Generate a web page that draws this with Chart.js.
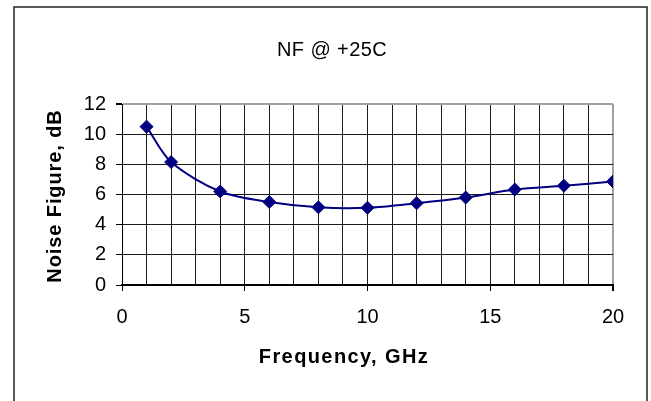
<!DOCTYPE html>
<html>
<head>
<meta charset="utf-8">
<script src="https://cdn.jsdelivr.net/npm/chart.js@4/dist/chart.umd.min.js"></script>
<style>
  body{margin:0;background:#fff;}
  #nfChart{display:block;}
</style>
</head>
<body>
<canvas id="nfChart" width="651" height="401"></canvas>
<script>
// NF @ +25C
const freqGHz=[1,2,4,6,8,10,12,14,16,18,20];
const noiseFigureDb=[10.5,8.15,6.2,5.5,5.15,5.12,5.42,5.8,6.33,6.58,6.86];
const xTickLabels=[0,5,10,15,20];
const yTickLabels=[0,2,4,6,8,10,12];
const chartTitle='NF @ +25C';
const xTitle='Frequency, GHz';
const yTitle='Noise Figure, dB';

const FONT='"Liberation Sans", Arial, sans-serif';
const navy='#000080';

// frame + titles (Excel spaces the bold axis titles out a bit, so draw them by hand)
const decorPlugin={
  id:'decor',
  afterDraw:(chart)=>{
    const ctx=chart.ctx;
    ctx.save();
    ctx.strokeStyle='#222';
    ctx.lineWidth=1.5;
    ctx.strokeRect(14,7,633,430);

    ctx.fillStyle='#000';
    ctx.textAlign='center';
    ctx.textBaseline='middle';

    ctx.font='20px '+FONT;
    ctx.letterSpacing='0.4px';
    ctx.fillText(chartTitle,332,50);

    ctx.font='bold 20px '+FONT;
    ctx.letterSpacing='1.4px';
    ctx.fillText(xTitle,344,357);

    ctx.letterSpacing='0.9px';
    ctx.translate(55,196);
    ctx.rotate(-Math.PI/2);
    ctx.fillText(yTitle,0,0);
    ctx.restore();
  }
};

const loadNfChart=()=>{
  const ctx=document.getElementById('nfChart');
  const points=freqGHz.map((f,i)=>({x:f,y:noiseFigureDb[i]}));

  new Chart(ctx,{
    type:'scatter',
    data:{
      datasets:[{
        data:points,
        showLine:true,
        borderColor:navy,
        borderWidth:2,
        tension:0.3,
        pointStyle:'rectRot',
        pointRadius:6.5,
        pointBackgroundColor:navy,
        pointBorderColor:navy,
        pointBorderWidth:1
      }]
    },
    options:{
      responsive:false,
      animation:false,
      layout:{padding:{left:0,right:38,top:104,bottom:0}},
      plugins:{
        legend:{display:false},
        tooltip:{enabled:false}
      },
      scales:{
        x:{
          type:'linear',
          min:0,max:20,
          afterFit:(s)=>{s.height=116;},
          ticks:{
            stepSize:1,
            autoSkip:false,
            maxRotation:0,
            padding:14,
            color:'#000',
            font:{family:FONT,size:20},
            callback:(v)=>xTickLabels.includes(v)?String(v):''
          },
          grid:{
            color:(c)=>c.tick && c.tick.value===20?'#a0a0a0':'#1a1a1a',
            lineWidth:(c)=>c.tick && c.tick.value===20?2:1,
            tickLength:6,
            tickColor:(c)=>c.tick && xTickLabels.includes(c.tick.value)?'#000':'rgba(0,0,0,0)'
          },
          border:{color:'#000',width:2}
        },
        y:{
          min:0,max:12,
          afterFit:(s)=>{s.width=122;},
          ticks:{
            stepSize:2,
            padding:10,
            color:'#000',
            font:{family:FONT,size:20},
            callback:(v)=>yTickLabels.includes(v)?String(v):''
          },
          grid:{
            color:(c)=>c.tick && c.tick.value===12?'#a0a0a0':'#1a1a1a',
            lineWidth:(c)=>c.tick && c.tick.value===12?2:1,
            tickLength:6,
            tickColor:'#000'
          },
          border:{color:'#000',width:1}
        }
      }
    },
    plugins:[decorPlugin]
  });
};

loadNfChart();
</script>
</body>
</html>
